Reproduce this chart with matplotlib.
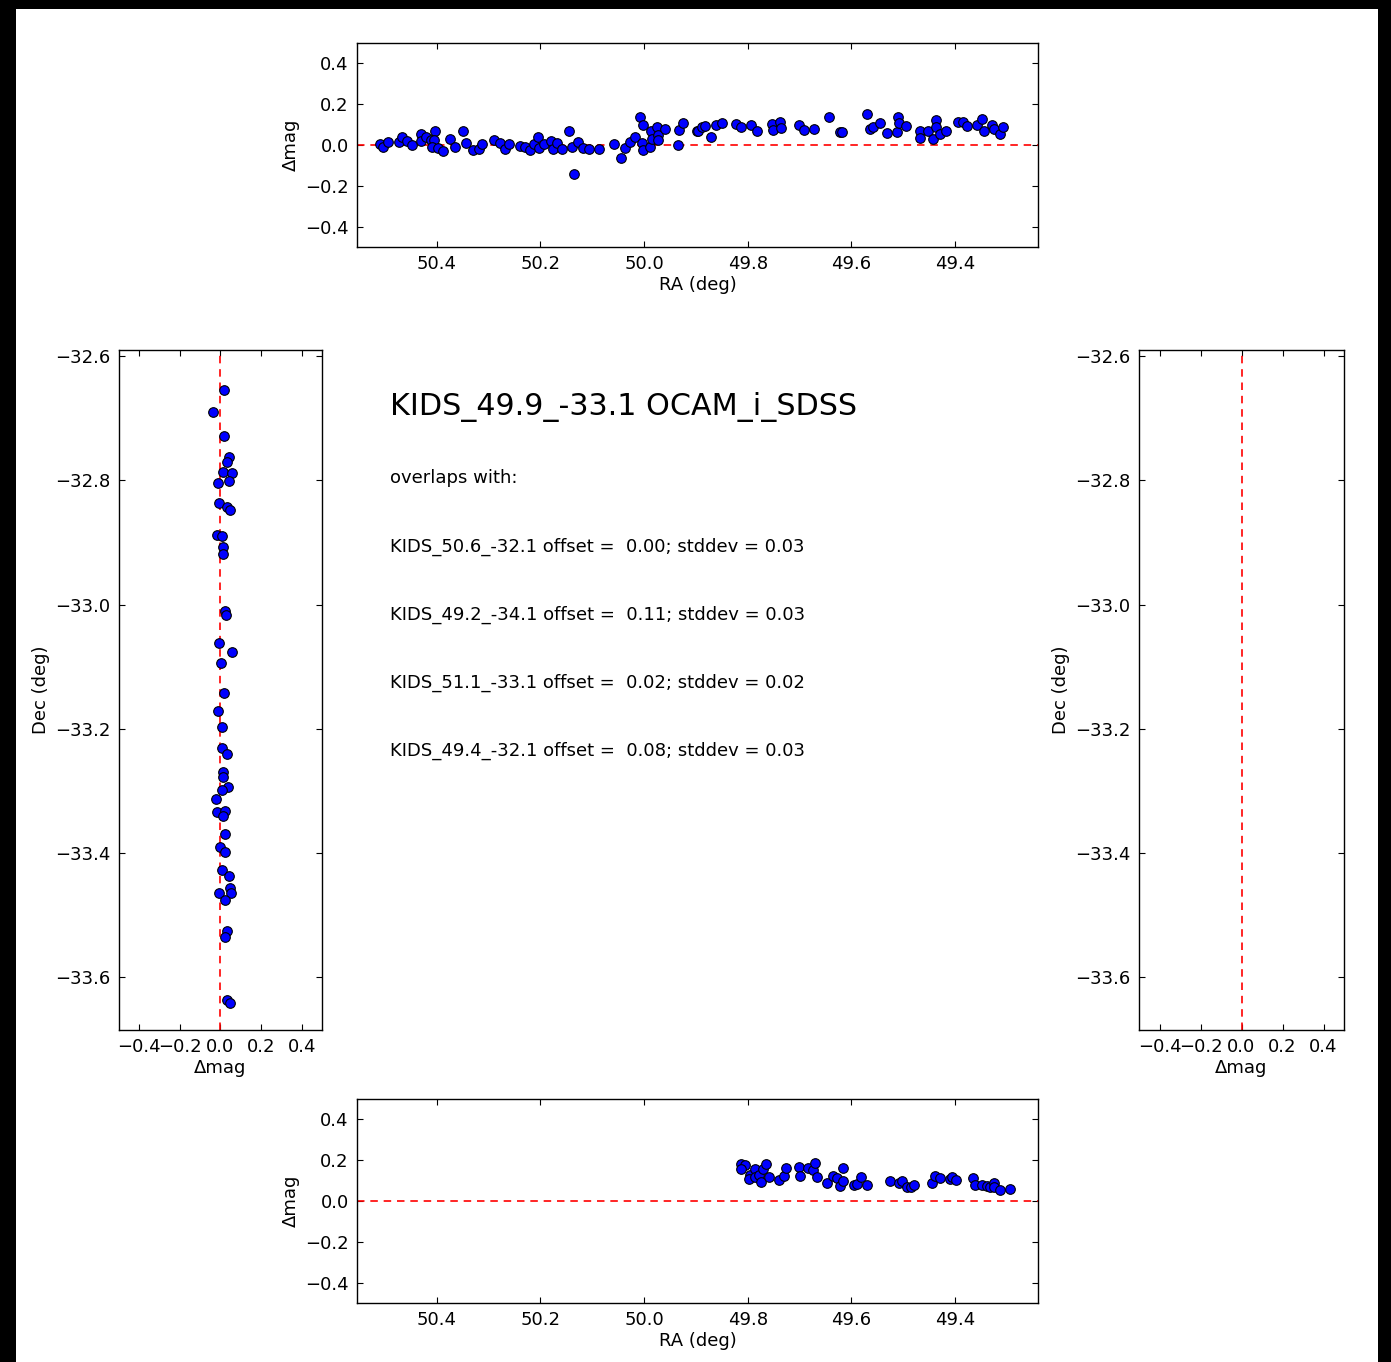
import matplotlib
matplotlib.use("Agg")
import matplotlib.pyplot as plt
from matplotlib.patches import Rectangle

# overlap 1 (top): RA vs delta mag
ra_top = [50.509, 50.504, 50.495, 50.473, 50.468, 50.457, 50.447, 50.431, 50.431, 50.420,
          50.412, 50.404, 50.405, 50.410, 50.397, 50.389, 50.374, 50.365, 50.349, 50.344,
          50.330, 50.318, 50.313, 50.290, 50.278, 50.268, 50.260, 50.240, 50.230, 50.220,
          50.212, 50.204, 50.203, 50.193, 50.180, 50.175, 50.168, 50.159, 50.145, 50.139,
          50.128, 50.118, 50.107, 50.135, 50.087, 50.058, 50.045, 50.037, 50.027, 50.018,
          50.008, 50.003, 50.005, 50.002, 49.989, 49.987, 49.984, 49.976, 49.974, 49.973,
          49.960, 49.934, 49.933, 49.925, 49.898,
          49.896, 49.889, 49.883, 49.870, 49.861, 49.850, 49.823, 49.813, 49.794, 49.782,
          49.754, 49.752, 49.738, 49.735, 49.701, 49.692, 49.672, 49.643, 49.622, 49.619,
          49.569, 49.565, 49.559, 49.545, 49.531, 49.513, 49.510, 49.509, 49.495, 49.468,
          49.468, 49.453, 49.442, 49.437, 49.437, 49.429, 49.417, 49.394, 49.384, 49.377,
          49.358, 49.348, 49.344, 49.329, 49.325, 49.314, 49.308]
dmag_top = [0.005, -0.008, 0.013, 0.015, 0.038, 0.021, 0.000, 0.055, 0.020, 0.038,
            0.024, 0.070, 0.024, -0.008, -0.016, -0.028, 0.031, -0.011, 0.070, 0.011,
            -0.024, -0.021, 0.006, 0.024, 0.008, -0.021, 0.006, -0.005, -0.008, -0.024,
            0.005, 0.038, -0.016, 0.006, 0.018, -0.021, 0.011, -0.021, 0.067, -0.008,
            0.013, -0.013, -0.021, -0.141, -0.021, 0.003, -0.063, -0.013, 0.016, 0.040,
            0.135, 0.098, 0.008, -0.024, -0.011, 0.068, 0.028, 0.089, 0.050, 0.024,
            0.077, 0.000, 0.073, 0.106, 0.068,
            0.068, 0.089, 0.093, 0.040, 0.096, 0.109, 0.102, 0.089, 0.098, 0.070,
            0.102, 0.073, 0.114, 0.081, 0.098, 0.073, 0.078, 0.135, 0.065, 0.062,
            0.150, 0.077, 0.089, 0.106, 0.060, 0.065, 0.138, 0.106, 0.093, 0.070,
            0.036, 0.070, 0.028, 0.122, 0.086, 0.052, 0.070, 0.114, 0.114, 0.093,
            0.098, 0.125, 0.070, 0.098, 0.077, 0.054, 0.086]

# overlap 2 (bottom)
ra_bot = [49.814, 49.805, 49.814, 49.796, 49.797, 49.787, 49.786, 49.778, 49.775, 49.770,
          49.765, 49.760, 49.740, 49.731, 49.726, 49.701, 49.699, 49.683, 49.674, 49.670,
          49.667, 49.648, 49.636, 49.627, 49.622, 49.616, 49.616, 49.595, 49.590, 49.581,
          49.569, 49.525, 49.509, 49.503, 49.493, 49.485, 49.480, 49.445, 49.439, 49.429,
          49.410, 49.405, 49.398, 49.366, 49.361, 49.348, 49.339, 49.332, 49.325, 49.324,
          49.314, 49.294]
dmag_bot = [0.180, 0.176, 0.155, 0.127, 0.106, 0.155, 0.119, 0.127, 0.094, 0.155,
            0.180, 0.116, 0.102, 0.122, 0.160, 0.167, 0.122, 0.164, 0.151, 0.184,
            0.116, 0.086, 0.122, 0.111, 0.073, 0.164, 0.099, 0.078, 0.083, 0.116,
            0.078, 0.099, 0.086, 0.099, 0.070, 0.070, 0.078, 0.086, 0.122, 0.111,
            0.106, 0.119, 0.102, 0.111, 0.078, 0.078, 0.073, 0.067, 0.089, 0.067,
            0.054, 0.057]

# overlap 3 (left): delta mag vs Dec
dmag_left = [0.017, -0.035, 0.017, 0.042, 0.031, 0.011, 0.055, -0.011, 0.040, -0.006,
             0.031, 0.047, -0.019, 0.006, 0.011, 0.014, 0.022, 0.027, -0.006, 0.055,
             0.001, 0.017, -0.014, 0.006, 0.009, 0.031, 0.011, 0.014, 0.038, 0.006,
             -0.022, -0.016, 0.022, 0.014, 0.022, -0.002, 0.022, 0.006, 0.042, 0.047,
             0.050, -0.006, 0.022, 0.031, 0.022, 0.033, 0.047]
dec_left = [-32.655, -32.690, -32.729, -32.763, -32.770, -32.787, -32.788, -32.804, -32.801, -32.837,
            -32.843, -32.848, -32.888, -32.890, -32.908, -32.919, -33.010, -33.017, -33.062, -33.076,
            -33.094, -33.142, -33.171, -33.197, -33.231, -33.240, -33.269, -33.278, -33.294, -33.298,
            -33.313, -33.334, -33.332, -33.341, -33.370, -33.390, -33.398, -33.428, -33.437, -33.457,
            -33.465, -33.465, -33.476, -33.526, -33.535, -33.637, -33.642]

title = "KIDS_49.9_-33.1 OCAM_i_SDSS"
neighbours = ["KIDS_50.6_-32.1", "KIDS_49.2_-34.1", "KIDS_51.1_-33.1", "KIDS_49.4_-32.1"]
offsets = [0.00, 0.11, 0.02, 0.08]
stddevs = [0.03, 0.03, 0.02, 0.03]

plt.rcParams.update({
    "font.family": "DejaVu Sans",
    "font.size": 13,
    "xtick.direction": "in",
    "ytick.direction": "in",
    "xtick.top": True,
    "ytick.right": True,
    "xtick.major.size": 4,
    "ytick.major.size": 4,
    "xtick.major.pad": 6,
    "ytick.major.pad": 6,
    "axes.linewidth": 1.0,
})

W, H = 1391, 1362
fig = plt.figure(figsize=(W / 100, H / 100), dpi=100, facecolor="black")
# white page inside black border, kept behind the axes
fig.patches.append(Rectangle((16 / W, 0), (1378 - 16) / W, 1 - 9 / H,
                             transform=fig.transFigure, facecolor="white",
                             edgecolor="none", zorder=-10))

ra_lim = (50.554, 49.24)
dec_lim = (-33.685, -32.59)
pt = dict(s=48, c="blue", edgecolors="black", linewidths=0.8, zorder=3)
dash = dict(color="red", lw=1.2, ls="--", dashes=(4.5, 3.5), zorder=2)


def ra_panel(rect, ra, dm):
    ax = fig.add_axes(rect)
    ax.plot(ra_lim, [0, 0], **dash)
    if len(ra):
        ax.scatter(ra, dm, **pt)
    ax.set_xlim(ra_lim)
    ax.set_ylim(-0.5, 0.5)
    ax.set_xticks([50.4, 50.2, 50.0, 49.8, 49.6, 49.4])
    ax.set_yticks([-0.4, -0.2, 0.0, 0.2, 0.4])
    ax.set_xlabel("RA (deg)", labelpad=2)
    ax.set_ylabel("Δmag")
    return ax


def dec_panel(rect, dm, dec):
    ax = fig.add_axes(rect)
    ax.plot([0, 0], dec_lim, **dash)
    if len(dec):
        ax.scatter(dm, dec, **pt)
    ax.set_xlim(-0.5, 0.5)
    ax.set_ylim(dec_lim)
    ax.set_xticks([-0.4, -0.2, 0.0, 0.2, 0.4])
    ax.set_yticks([-32.6, -32.8, -33.0, -33.2, -33.4, -33.6])
    ax.set_xlabel("Δmag", labelpad=2)
    ax.set_ylabel("Dec (deg)")
    return ax


ra_panel([357 / W, 1 - 247 / H, 681 / W, 204 / H], ra_top, dmag_top)
ra_panel([357 / W, 1 - 1303 / H, 681 / W, 204 / H], ra_bot, dmag_bot)
dec_panel([119 / W, 1 - 1030 / H, 203 / W, 680 / H], dmag_left, dec_left)
dec_panel([1139 / W, 1 - 1030 / H, 205 / W, 680 / H], [], [])

fig.text(390 / W, 1 - 407 / H, title, fontsize=21.7, va="center", ha="left")
fig.text(390 / W, 1 - 478 / H, "overlaps with:", va="center", ha="left")
line_y = [547, 615, 683, 751]
for name, off, sd, yy in zip(neighbours, offsets, stddevs, line_y):
    fig.text(390 / W, 1 - yy / H, f"{name} offset = {off: .2f}; stddev = {sd:.2f}",
             va="center", ha="left")

fig.savefig("out.png", dpi=100, facecolor=fig.get_facecolor())
